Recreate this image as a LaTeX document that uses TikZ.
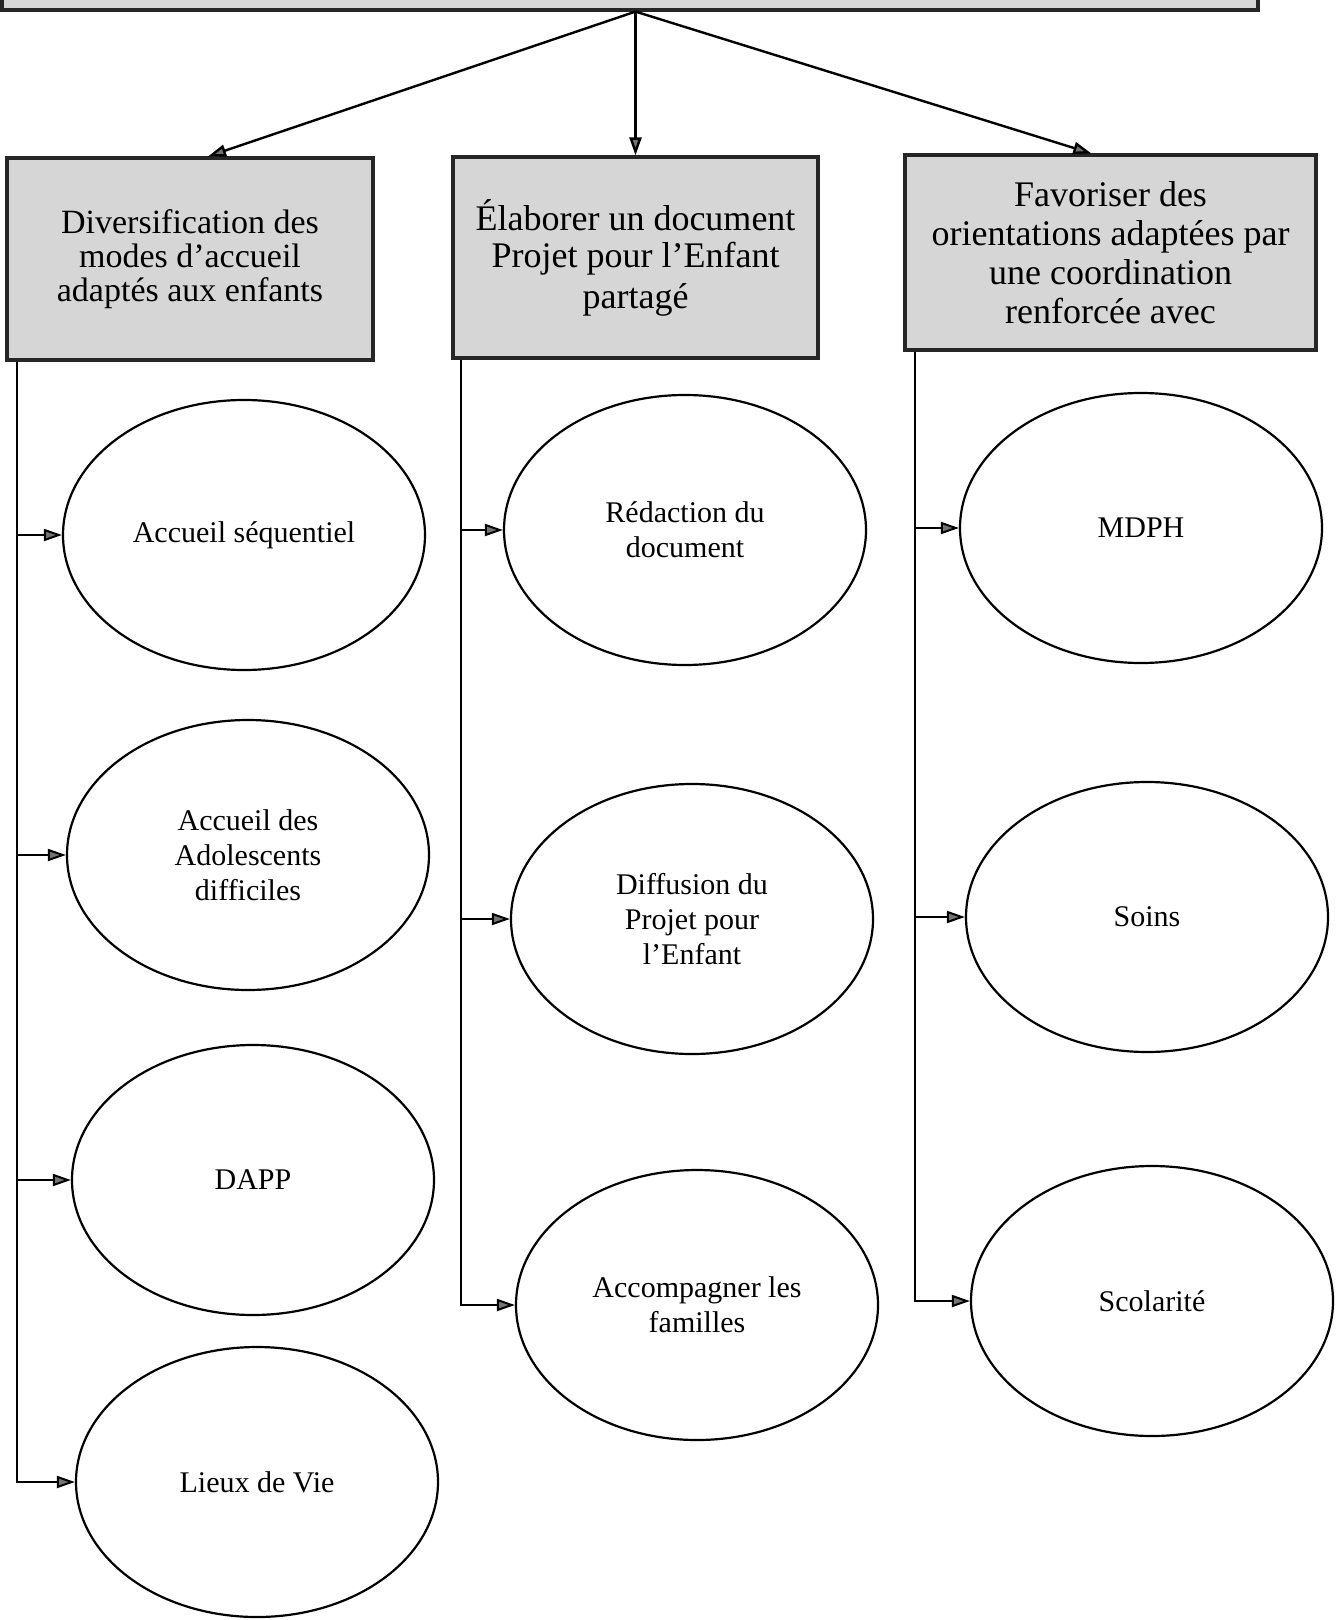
\documentclass[tikz,border=0pt]{standalone}
\usepackage{fontspec}
\setmainfont{Liberation Serif}
\usetikzlibrary{arrows.meta,shapes.geometric}

\tikzset{
  goalbox/.style={draw=black!85, line width=1.6pt, fill=gray!32, align=center,
    inner sep=0pt, font=\fontsize{18}{19.5}\selectfont},
  action/.style={ellipse, draw, line width=1.1pt, minimum width=181pt,
    minimum height=135pt, inner sep=0pt, align=center,
    font=\fontsize{15}{17.5}\selectfont},
  arrowhd/.style={-{Triangle[length=9pt, width=6pt, fill=black!55]}},
  link/.style={arrowhd, line width=1.2pt},
  branch/.style={arrowhd, line width=1pt},
}

\begin{document}
\begin{tikzpicture}[x=0.5pt, y=-0.5pt]
  % page frame, in scan pixels (1339 x 1620)
  \useasboundingbox (0,0) rectangle (1339,1620);
  % --- top box, cut by the page edge ---
  \node[goalbox, minimum width=628pt, minimum height=40pt] (mission) at (630,-30) {};
  % --- the three goals ---
  \node[goalbox, minimum width=183pt, minimum height=101pt,
    font=\fontsize{17}{17}\selectfont] (diversif) at (190,259)
    {Diversification des\\modes d’accueil\\adaptés aux enfants};
  \node[goalbox, minimum width=182.5pt, minimum height=100.5pt,
    font=\fontsize{18}{18.5}\selectfont] (elaborer) at (635.5,257.5)
    {Élaborer un document\\Projet pour l’Enfant\\[2pt]partagé};
  \node[goalbox, minimum width=205.5pt, minimum height=97.5pt] (favoriser) at (1110.5,252.5)
    {Favoriser des\\orientations adaptées par\\une coordination\\renforcée avec};
  % arrows from the top box
  \draw[link] (mission.south -| elaborer.north) -- (diversif.80);
  \draw[link] (mission.south -| elaborer.north) -- (elaborer.north);
  \draw[link] (mission.south -| elaborer.north) -- (favoriser.101);
  % --- actions, first column ---
  \node[action] (accseq) at (244,535) {Accueil séquentiel};
  \node[action] (ados) at (248,855) {Accueil des\\Adolescents\\difficiles};
  \node[action] (dapp) at (253,1180) {DAPP};
  \node[action] (lieux) at (257,1482) {Lieux de Vie};
  % --- second column ---
  \node[action] (redaction) at (685,530) {Rédaction du\\document};
  \node[action] (diffusion) at (692,919) {Diffusion du\\Projet pour\\l’Enfant};
  \node[action] (familles) at (697,1305) {Accompagner les\\familles};
  % --- third column ---
  \node[action] (mdph) at (1141,528) {MDPH};
  \node[action] (soins) at (1147,917) {Soins};
  \node[action] (scolarite) at (1152,1301) {Scolarité};
  % branches down the left side of each goal
  \draw[branch] ([xshift=6pt]diversif.south west) |- (accseq.west);
  \draw[branch] ([xshift=6pt]diversif.south west) |- (ados.west);
  \draw[branch] ([xshift=6pt]diversif.south west) |- (dapp.west);
  \draw[branch] ([xshift=6pt]diversif.south west) |- (lieux.west);
  \draw[branch] ([xshift=5pt]elaborer.south west) |- (redaction.west);
  \draw[branch] ([xshift=5pt]elaborer.south west) |- (diffusion.west);
  \draw[branch] ([xshift=5pt]elaborer.south west) |- (familles.west);
  \draw[branch] ([xshift=6pt]favoriser.south west) |- (mdph.west);
  \draw[branch] ([xshift=6pt]favoriser.south west) |- (soins.west);
  \draw[branch] ([xshift=6pt]favoriser.south west) |- (scolarite.west);
\end{tikzpicture}
\end{document}
